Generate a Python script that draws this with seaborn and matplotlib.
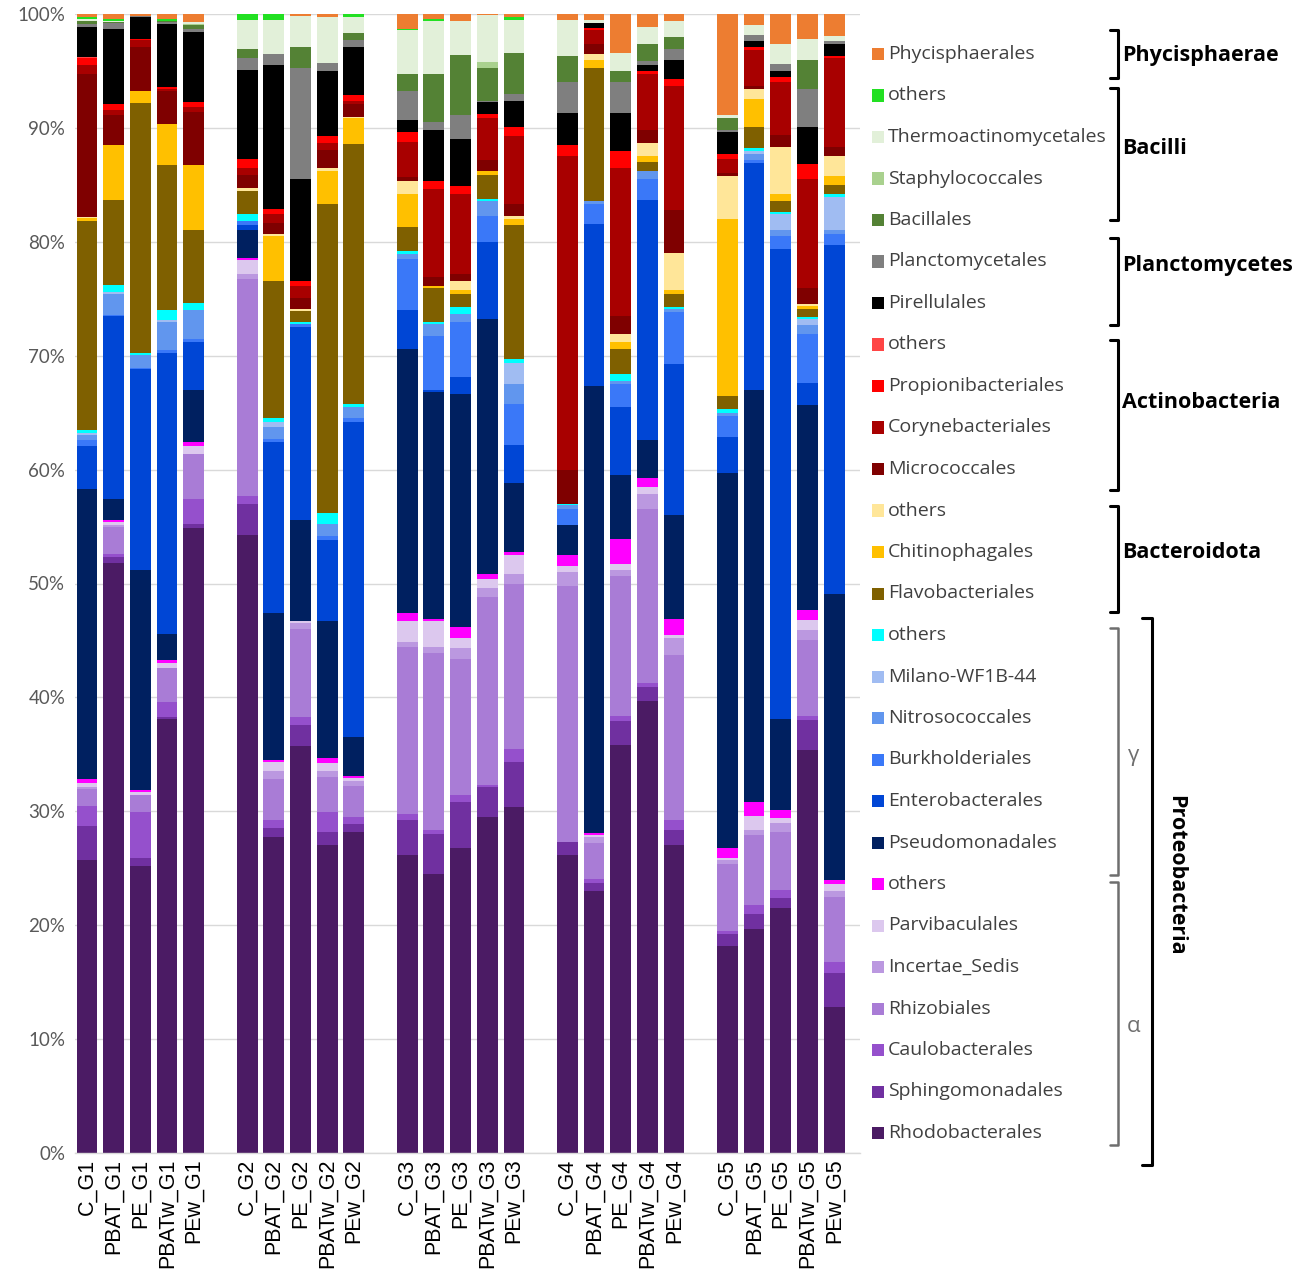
import numpy as np
import pandas as pd
import matplotlib
matplotlib.use("Agg")
import matplotlib.pyplot as plt
from matplotlib.lines import Line2D
from matplotlib.patches import Rectangle
import seaborn as sns

# ---------------- data ----------------
taxa_labels = ["Rhodobacterales", "Sphingomonadales", "Caulobacterales", "Rhizobiales",
               "Incertae_Sedis", "Parvibaculales", "others",
               "Pseudomonadales", "Enterobacterales", "Burkholderiales", "Nitrosococcales",
               "Milano-WF1B-44", "others",
               "Flavobacteriales", "Chitinophagales", "others",
               "Micrococcales", "Corynebacteriales", "Propionibacteriales", "others",
               "Pirellulales", "Planctomycetales",
               "Bacillales", "Staphylococcales", "Thermoactinomycetales", "others",
               "Phycisphaerales"]
taxa_keys = [f"{i:02d}_{t}" for i, t in enumerate(taxa_labels)]

taxa_colors = ["#4B1B64", "#7030A0", "#9550CC", "#A97CD6", "#BB98E0", "#DCC8EE", "#FF00FF",
               "#002060", "#0046D5", "#3A78F8", "#6196EE", "#A0BCF2", "#00FFFF",
               "#7F6000", "#FFC000", "#FFE699",
               "#7F0000", "#A80000", "#FF0000", "#FF4545",
               "#000000", "#7F7F7F",
               "#548235", "#A9D18E", "#E2F0D9", "#22E022",
               "#ED7D31"]

samples = ["C_G1", "PBAT_G1", "PE_G1", "PBATw_G1", "PEw_G1",
           "C_G2", "PBAT_G2", "PE_G2", "PBATw_G2", "PEw_G2",
           "C_G3", "PBAT_G3", "PE_G3", "PBATw_G3", "PEw_G3",
           "C_G4", "PBAT_G4", "PE_G4", "PBATw_G4", "PEw_G4",
           "C_G5", "PBAT_G5", "PE_G5", "PBATw_G5", "PEw_G5"]

# relative abundance (%) per sample, in the order of taxa_labels (bottom -> top)
C_G1     = [25.7, 3.0, 1.8, 1.5, 0.1, 0.4, 0.3, 25.5, 3.8, 0.5, 0.4, 0.2, 0.3, 18.3, 0.3, 0.1, 12.5, 0.8, 0.6, 0.1, 2.7, 0.2, 0.3, 0.0, 0.2, 0.1, 0.3]
PBAT_G1  = [51.8, 0.5, 0.3, 2.4, 0.1, 0.3, 0.2, 1.8, 16.1, 0.1, 1.8, 0.2, 0.6, 7.5, 4.8, 0.0, 2.6, 0.5, 0.5, 0.0, 6.6, 0.5, 0.1, 0.0, 0.1, 0.2, 0.4]
PE_G1    = [25.2, 0.7, 4.0, 1.5, 0.0, 0.3, 0.2, 19.3, 17.6, 0.1, 1.2, 0.0, 0.1, 22.0, 1.0, 0.0, 3.9, 0.65, 0.05, 0.0, 1.9, 0.1, 0.0, 0.0, 0.0, 0.0, 0.2]
PBATw_G1 = [38.1, 0.2, 1.3, 3.0, 0.0, 0.4, 0.3, 2.3, 24.6, 0.3, 2.5, 0.1, 0.9, 12.7, 3.6, 0.0, 2.9, 0.2, 0.2, 0.0, 5.5, 0.2, 0.1, 0.0, 0.0, 0.2, 0.4]
PEw_G1   = [54.9, 0.3, 2.2, 4.0, 0.0, 0.7, 0.3, 4.6, 4.2, 0.3, 2.5, 0.0, 0.6, 6.4, 5.7, 0.0, 4.7, 0.4, 0.5, 0.0, 6.1, 0.3, 0.3, 0.1, 0.2, 0.0, 0.7]
C_G2     = [54.3, 2.7, 0.7, 19.0, 0.5, 1.2, 0.2, 2.4, 0.5, 0.3, 0.0, 0.0, 0.6, 2.1, 0.0, 0.2, 1.2, 0.6, 0.8, 0.0, 7.8, 1.0, 0.8, 0.0, 2.6, 0.5, 0.0]
PBAT_G2  = [27.7, 0.8, 0.7, 3.6, 0.7, 0.8, 0.2, 12.9, 15.0, 0.3, 1.0, 0.5, 0.3, 12.1, 3.9, 0.15, 1.0, 0.8, 0.45, 0.0, 12.6, 1.0, 0.0, 0.0, 3.0, 0.5, 0.0]
PE_G2    = [35.7, 1.9, 0.7, 7.7, 0.5, 0.2, 0.0, 8.9, 16.9, 0.3, 0.0, 0.0, 0.2, 0.9, 0.0, 0.2, 1.0, 1.0, 0.5, 0.0, 8.9, 9.8, 1.8, 0.0, 2.7, 0.0, 0.2]
PBATw_G2 = [27.0, 1.2, 1.7, 3.1, 0.5, 0.7, 0.5, 12.0, 7.1, 0.4, 1.0, 0.0, 1.0, 27.1, 2.9, 0.3, 1.6, 0.6, 0.6, 0.0, 5.7, 0.7, 0.0, 0.0, 4.0, 0.0, 0.3]
PEw_G2   = [28.2, 0.7, 0.6, 2.7, 0.5, 0.2, 0.2, 3.4, 27.7, 0.3, 1.0, 0.0, 0.3, 22.8, 2.3, 0.1, 1.1, 0.3, 0.5, 0.0, 4.2, 0.6, 0.6, 0.0, 1.4, 0.3, 0.0]
C_G3     = [26.2, 3.0, 0.6, 14.6, 0.5, 1.8, 0.7, 23.2, 3.4, 4.5, 0.4, 0.0, 0.3, 2.1, 2.9, 1.1, 0.4, 3.1, 0.8, 0.0, 1.1, 2.5, 1.5, 0.0, 3.9, 0.1, 1.3]
PBAT_G3  = [24.5, 3.5, 0.4, 15.5, 0.5, 2.3, 0.2, 19.9, 0.2, 4.7, 1.1, 0.0, 0.2, 2.9, 0.2, 0.0, 0.8, 7.7, 0.7, 0.0, 4.5, 0.7, 4.2, 0.0, 4.7, 0.2, 0.4]
PE_G3    = [26.8, 4.0, 0.6, 12.0, 0.9, 0.9, 1.0, 20.4, 1.5, 4.9, 0.7, 0.0, 0.6, 1.1, 0.4, 0.8, 0.6, 7.0, 0.7, 0.0, 4.1, 2.1, 5.3, 0.0, 3.0, 0.0, 0.6]
PBATw_G3 = [29.5, 2.6, 0.2, 16.5, 0.8, 0.8, 0.4, 22.4, 6.8, 2.3, 1.3, 0.0, 0.2, 2.1, 0.3, 0.0, 1.0, 3.7, 0.3, 0.0, 1.1, 0.1, 2.9, 0.5, 4.1, 0.0, 0.1]
PEw_G3   = [30.4, 3.9, 1.2, 14.5, 0.8, 1.7, 0.3, 6.0, 3.4, 3.6, 1.7, 1.9, 0.3, 11.8, 0.5, 0.3, 1.0, 6.0, 0.8, 0.0, 2.3, 0.6, 3.6, 0.0, 2.9, 0.2, 0.3]
C_G4     = [26.2, 1.1, 0.0, 22.5, 1.2, 0.5, 1.0, 2.6, 0.0, 1.45, 0.35, 0.0, 0.1, 0.0, 0.0, 0.0, 3.0, 27.5, 1.0, 0.0, 2.8, 2.7, 2.3, 0.0, 3.2, 0.0, 0.5]
PBAT_G4  = [23.0, 0.7, 0.4, 3.1, 0.5, 0.2, 0.2, 39.2, 14.3, 1.7, 0.3, 0.0, 0.0, 11.7, 0.7, 0.5, 0.9, 1.2, 0.2, 0.0, 0.4, 0.0, 0.0, 0.0, 0.3, 0.0, 0.5]
PE_G4    = [35.8, 2.1, 0.5, 12.3, 0.5, 0.5, 2.2, 5.6, 6.0, 2.0, 0.3, 0.0, 0.6, 2.2, 0.6, 0.7, 1.6, 13.0, 1.5, 0.0, 3.3, 2.7, 1.0, 0.0, 1.6, 0.0, 3.4]
PBATw_G4 = [39.7, 1.2, 0.4, 15.2, 1.4, 0.6, 0.8, 3.3, 21.1, 1.8, 0.7, 0.0, 0.0, 0.8, 0.5, 1.2, 1.1, 4.9, 0.3, 0.0, 0.5, 0.4, 1.5, 0.0, 1.5, 0.0, 1.1]
PEw_G4   = [27.0, 1.4, 0.8, 14.5, 1.5, 0.3, 1.4, 9.1, 13.3, 4.5, 0.3, 0.0, 0.2, 1.1, 0.4, 3.2, 3.8, 10.9, 0.6, 0.0, 1.7, 0.9, 1.1, 0.0, 1.4, 0.0, 0.6]
C_G5     = [18.2, 1.0, 0.3, 5.9, 0.3, 0.2, 0.9, 32.9, 3.2, 1.8, 0.3, 0.0, 0.3, 1.2, 15.5, 3.8, 0.2, 1.3, 0.4, 0.0, 1.9, 0.2, 1.1, 0.0, 0.2, 0.0, 8.9]
PBAT_G5  = [19.7, 1.3, 0.8, 6.1, 0.5, 1.2, 1.2, 36.2, 19.9, 0.3, 0.5, 0.3, 0.2, 1.9, 2.4, 0.9, 0.3, 3.1, 0.3, 0.0, 0.5, 0.6, 0.0, 0.0, 0.8, 0.0, 1.0]
PE_G5    = [21.5, 0.9, 0.7, 5.1, 0.8, 0.4, 0.7, 8.0, 41.3, 1.1, 0.5, 1.4, 0.2, 1.0, 0.6, 4.1, 1.1, 4.6, 0.5, 0.0, 0.5, 0.6, 0.0, 0.0, 1.8, 0.0, 2.6]
PBATw_G5 = [35.4, 2.6, 0.4, 6.6, 0.9, 0.9, 0.9, 18.0, 1.9, 4.3, 0.8, 0.5, 0.2, 0.7, 0.3, 0.1, 1.4, 9.6, 1.3, 0.0, 3.3, 3.3, 2.6, 0.0, 1.8, 0.0, 2.2]
PEw_G5   = [12.8, 3.0, 1.0, 5.7, 0.5, 0.6, 0.4, 25.1, 30.6, 1.0, 0.3, 2.9, 0.3, 0.8, 0.8, 1.7, 0.8, 7.8, 0.2, 0.0, 1.1, 0.2, 0.0, 0.0, 0.5, 0.0, 1.9]

sample_values = [C_G1, PBAT_G1, PE_G1, PBATw_G1, PEw_G1,
                 C_G2, PBAT_G2, PE_G2, PBATw_G2, PEw_G2,
                 C_G3, PBAT_G3, PE_G3, PBATw_G3, PEw_G3,
                 C_G4, PBAT_G4, PE_G4, PBATw_G4, PEw_G4,
                 C_G5, PBAT_G5, PE_G5, PBATw_G5, PEw_G5]

group_labels = ["Phycisphaerae", "Bacilli", "Planctomycetes", "Actinobacteria", "Bacteroidota"]
sub_labels = ["γ", "α"]
phylum_label = "Proteobacteria"

# ---------------- tidy table ----------------
rows = []
for s, vals in zip(samples, sample_values):
    for k, v in zip(taxa_keys, vals):
        rows.append((s, k, v))
df = pd.DataFrame(rows, columns=["sample", "taxon", "value"])
df["taxon"] = pd.Categorical(df["taxon"], categories=taxa_keys, ordered=True)
df = df.sort_values(["sample", "taxon"])
df["cum"] = df.groupby("sample", observed=True)["value"].cumsum()

# category order with blank spacers between the five groups
order = []
for gi in range(5):
    order += samples[gi * 5:(gi + 1) * 5]
    if gi < 4:
        order.append(" " * (gi + 1))

# ---------------- figure ----------------
sns.set_theme(style="white")
plt.rcParams["font.family"] = ["Open Sans", "DejaVu Sans"]

W, H = 1299, 1279
fig = plt.figure(figsize=(W / 100, H / 100), dpi=100)
ax = fig.add_axes([75 / W, (H - 1153) / H, (860 - 75) / W, (1153 - 14) / H])

for k in reversed(range(len(taxa_keys))):
    sub = df[df["taxon"] == taxa_keys[k]]
    sns.barplot(data=sub, x="sample", y="cum", order=order, color=taxa_colors[k],
                saturation=1, width=0.78, linewidth=0, errorbar=None, ax=ax)

ax.set_xlim(-0.45, len(order) - 1 + 0.97)
ax.set_ylim(0, 100)
ax.set_yticks(np.arange(0, 101, 10))
ax.set_yticklabels([f"{v}%" for v in range(0, 101, 10)], fontsize=13.5, color="#595959",
                   family=["Lato", "DejaVu Sans"])
ax.set_xticks([order.index(s) for s in samples])
ax.set_xticklabels(samples, rotation=90, fontsize=15.5, color="black",
                   family=["Liberation Sans", "DejaVu Sans"])
ax.tick_params(axis="both", length=0, pad=4)
ax.tick_params(axis="y", pad=7)
ax.set_xlabel("")
ax.set_ylabel("")
ax.yaxis.grid(True, color="#D9D9D9", linewidth=1.0)
ax.set_axisbelow(True)
for side in ["left", "top", "right"]:
    ax.spines[side].set_visible(False)
ax.spines["bottom"].set_color("#D9D9D9")
ax.spines["bottom"].set_linewidth(1.0)

# ---------------- legend (manual, top = last taxon) ----------------
y_top, y_step = 54, 41.5
for idx in range(len(taxa_keys)):
    row = len(taxa_keys) - 1 - idx
    yp = y_top + row * y_step
    fig.patches.append(Rectangle((872 / W, (H - yp - 6) / H), 12 / W, 12 / H,
                                 transform=fig.transFigure, facecolor=taxa_colors[idx],
                                 edgecolor="none"))
    fig.text(888 / W, (H - yp) / H, taxa_labels[idx], fontsize=14, color="#404040",
             va="center", ha="left")

def draw_bracket(x, y0, y1, color, lw=2.2, tick=8):
    xs = [(x - tick) / W, x / W, x / W, (x - tick) / W]
    ys = [(H - y0) / H, (H - y0) / H, (H - y1) / H, (H - y1) / H]
    fig.lines.append(Line2D(xs, ys, transform=fig.transFigure, color=color, lw=lw,
                            solid_joinstyle="round", solid_capstyle="round"))

# bracket extents and label positions (pixels from top)
group_brackets = [(30, 78, 56), (88, 220, 148), (238, 325, 266), (340, 490, 402), (506, 612, 553)]
for label, (ya, yb, yl) in zip(group_labels, group_brackets):
    draw_bracket(1118, ya, yb, "black")
    fig.text(1122 / W, (H - yl) / H, label, fontsize=15.5, fontweight="bold",
             color="black", va="center", ha="left")

sub_brackets = [(628, 875, 755), (882, 1145, 1027)]
for label, (ya, yb, yl) in zip(sub_labels, sub_brackets):
    draw_bracket(1118, ya, yb, "#6E6E6E", lw=1.8)
    fig.text(1134 / W, (H - yl) / H, label, fontsize=16, color="#6E6E6E",
             va="center", ha="center")

draw_bracket(1152, 618, 1165, "black", lw=2.2, tick=10)
fig.text(1176 / W, (H - 875) / H, phylum_label, fontsize=15.5, fontweight="bold",
         color="black", va="center", ha="center", rotation=-90)

fig.savefig("out.png", dpi=100, facecolor="white")
